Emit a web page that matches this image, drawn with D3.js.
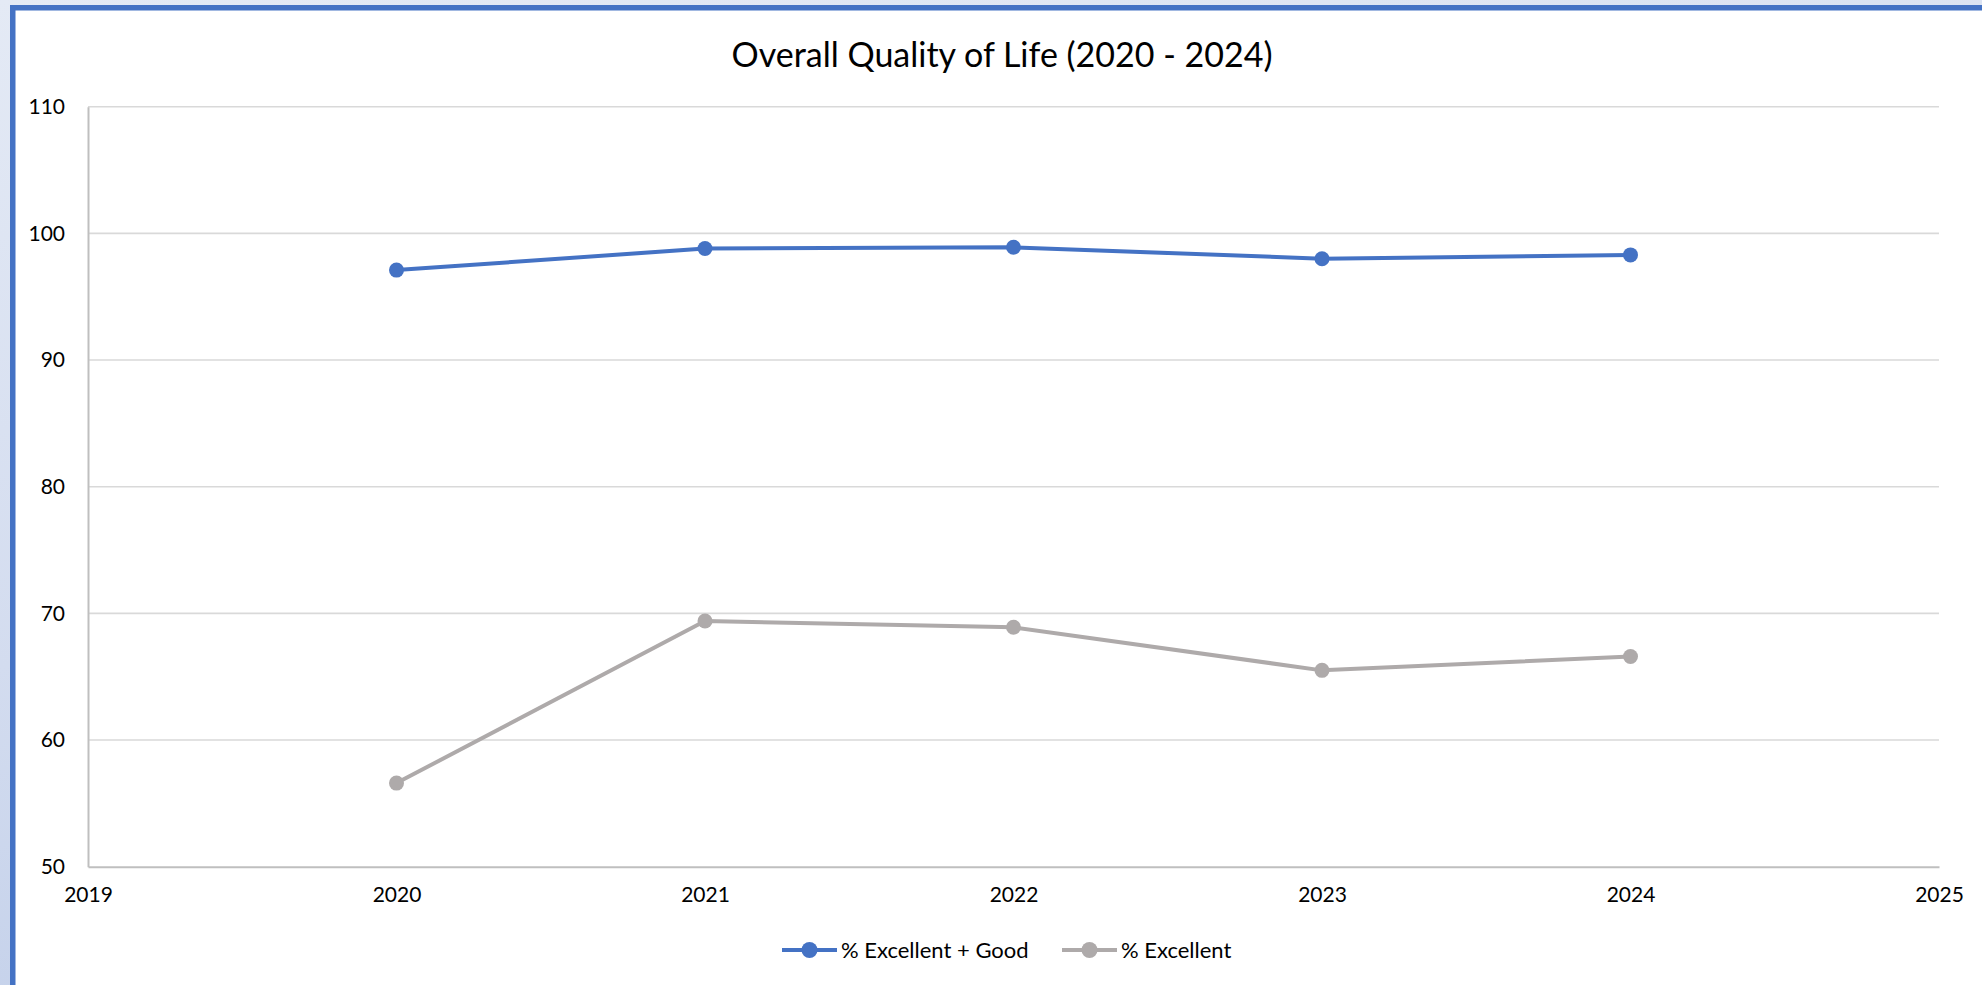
<!DOCTYPE html>
<html>
<head>
<meta charset="utf-8">
<script src="https://cdn.jsdelivr.net/npm/d3@7"></script>
<style>
  html, body { margin: 0; padding: 0; }
  body { width: 1982px; height: 985px; overflow: hidden;
         background: linear-gradient(170deg, #e4eaf5 0%, #d3dcef 50%, #b9c9e7 100%); }
  svg { display: block; }
  text { font-family: Lato, "Open Sans", sans-serif; fill: #000; }
</style>
</head>
<body>
<svg id="chart" width="1982" height="985"></svg>
<script>
const title = "Overall Quality of Life (2020 - 2024)";
const years = [2020, 2021, 2022, 2023, 2024];
const excellentGood = [97.1, 98.8, 98.9, 98.0, 98.3];
const excellent = [56.6, 69.4, 68.9, 65.5, 66.6];
const seriesNames = ["% Excellent + Good", "% Excellent"];
const seriesColors = ["#4472c4", "#aeaaaa"];
const xTicks = [2019, 2020, 2021, 2022, 2023, 2024, 2025];
const yTicks = [50, 60, 70, 80, 90, 100, 110];

const series = [
  { name: seriesNames[0], color: seriesColors[0], values: excellentGood },
  { name: seriesNames[1], color: seriesColors[1], values: excellent }
];

const svg = d3.select("#chart");

// chart frame (white area with blue border at top/left)
svg.append("rect").attr("x", 10).attr("y", 5).attr("width", 1982).attr("height", 990)
  .attr("fill", "#ffffff");
svg.append("rect").attr("x", 10).attr("y", 5).attr("width", 5.5).attr("height", 985)
  .attr("fill", "#4472c4");
svg.append("rect").attr("x", 10).attr("y", 5).attr("width", 1982).attr("height", 5.5)
  .attr("fill", "#4472c4");

const x = d3.scaleLinear().domain([2019, 2025]).range([88, 1939]);
const y = d3.scaleLinear().domain([50, 110]).range([866.7, 106.7]);

// gridlines
svg.append("g").selectAll("line").data(yTicks.filter(d => d !== 50)).join("line")
  .attr("x1", x(2019)).attr("x2", x(2025))
  .attr("y1", d => y(d)).attr("y2", d => y(d))
  .attr("stroke", "#d9d9d9").attr("stroke-width", 1.6);

// axes
const yAxis = d3.axisLeft(y).tickValues(yTicks).tickSize(0).tickPadding(23);
const gy = svg.append("g").attr("transform", `translate(${x(2019)},0)`).call(yAxis);
gy.select(".domain").attr("stroke", "#bfbfbf").attr("stroke-width", 2);
gy.selectAll("text").attr("font-size", 21).attr("font-family", "Lato").attr("fill", "#000");

const xAxis = d3.axisBottom(x).tickValues(xTicks).tickFormat(d3.format("d")).tickSize(0).tickPadding(20);
const gx = svg.append("g").attr("transform", `translate(0,${y(50)})`).call(xAxis);
gx.select(".domain").attr("stroke", "#bfbfbf").attr("stroke-width", 2);
gx.selectAll("text").attr("font-size", 21).attr("font-family", "Lato").attr("fill", "#000");

// lines and markers
const line = d3.line().x((d, i) => x(years[i])).y(d => y(d));
series.forEach(s => {
  svg.append("path").datum(s.values).attr("d", line)
    .attr("fill", "none").attr("stroke", s.color).attr("stroke-width", 4)
    .attr("stroke-linejoin", "round").attr("stroke-linecap", "round");
  svg.append("g").selectAll("circle").data(s.values).join("circle")
    .attr("cx", (d, i) => x(years[i])).attr("cy", d => y(d)).attr("r", 7.5)
    .attr("fill", s.color);
});

// title
svg.append("text").attr("x", 1002).attr("y", 67).attr("text-anchor", "middle")
  .attr("font-size", 34).text(title);

// legend
const legendX = [782, 1062];
const legendY = 950;
series.forEach((s, i) => {
  const g = svg.append("g").attr("transform", `translate(${legendX[i]},${legendY})`);
  g.append("line").attr("x1", 0).attr("x2", 55).attr("y1", 0).attr("y2", 0)
    .attr("stroke", s.color).attr("stroke-width", 4);
  g.append("circle").attr("cx", 27.5).attr("cy", 0).attr("r", 8).attr("fill", s.color);
  g.append("text").attr("x", 59).attr("y", 0).attr("dy", "0.35em")
    .attr("font-size", 22).text(s.name);
});
</script>
</body>
</html>
